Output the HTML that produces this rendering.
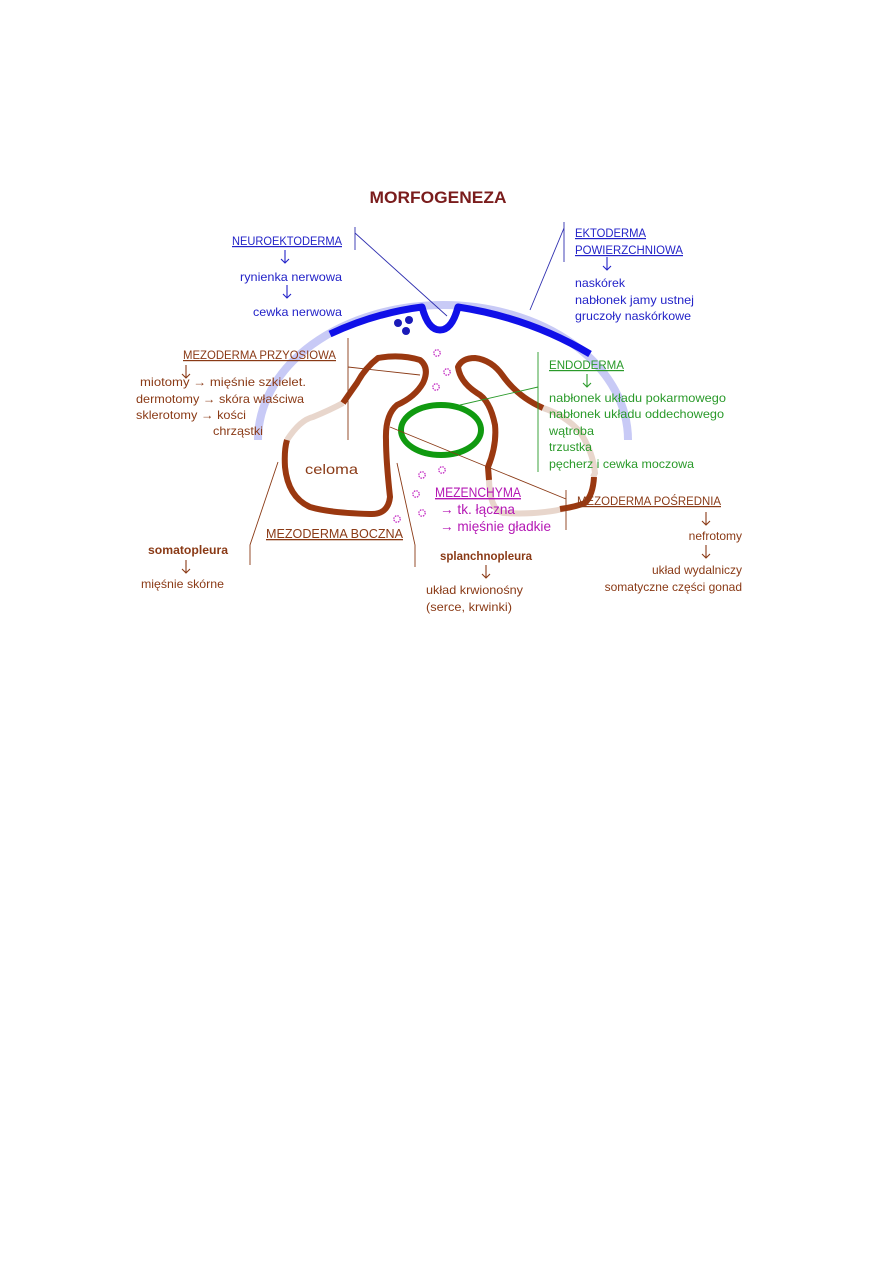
<!DOCTYPE html>
<html><head><meta charset="utf-8"><style>
html,body{margin:0;padding:0;background:#fff;}
svg{display:block;}
text{font-family:"Liberation Sans",sans-serif;font-size:12px;}
.b{fill:#2323c8}.br{fill:#8a3a16}.g{fill:#2a9a2a}.m{fill:#b418b4}
</style></head><body>
<svg width="893" height="1263" viewBox="0 0 893 1263" xmlns="http://www.w3.org/2000/svg">
<rect width="893" height="1263" fill="#fff"/>
<text x="438" y="203" text-anchor="middle" style="font-size:17px;font-weight:bold;fill:#7a1c1c" textLength="137" lengthAdjust="spacingAndGlyphs">MORFOGENEZA</text>

<!-- pale blue arc -->
<path d="M258 440 A185 135 0 0 1 628 440" fill="none" stroke="#c8caf6" stroke-width="8"/>
<!-- blue thick top -->
<path d="M330 334 Q375 313 422 307 Q428 330 440 330 Q452 330 458 307 Q530 318 590 354" fill="none" stroke="#1010e8" stroke-width="7" stroke-linejoin="round"/>
<circle cx="398" cy="323" r="4" fill="#1a1ab8"/><circle cx="409" cy="320" r="4" fill="#1a1ab8"/><circle cx="406" cy="331" r="4" fill="#1a1ab8"/>

<!-- left mesoderm -->
<path d="M287 440 Q300 420 313 417 Q330 410 343 403" fill="none" stroke="#e8d6cc" stroke-width="6"/>
<path d="M343 403 Q352 390 357 383 Q365 368 378 358 Q400 354 420 360 Q430 368 423 383 Q415 397 397 405 Q385 415 386 440 Q386 460 390 497 Q388 515 370 514 Q330 513 310 507 Q288 497 285 467 Q284 450 287 440" fill="none" stroke="#9a3810" stroke-width="6" stroke-linejoin="round"/>
<!-- right mesoderm -->
<path d="M543 408 Q565 415 580 432 Q593 452 595 473 L593 477" fill="none" stroke="#e8d6cc" stroke-width="6"/>
<path d="M567 508 Q540 515 503 513 Q490 510 489 480" fill="none" stroke="#e8d6cc" stroke-width="6"/>
<path d="M489 480 L488 467 Q497 445 495 425 Q490 400 477 393 Q460 382 458 367 Q462 358 475 358 Q492 360 503 376 Q518 397 543 408" fill="none" stroke="#9a3810" stroke-width="6" stroke-linejoin="round"/>
<path d="M594 477 Q593 495 585 503 Q575 507 560 509" fill="none" stroke="#9a3810" stroke-width="6"/>

<!-- green ellipse -->
<ellipse cx="441" cy="430" rx="40" ry="25" fill="none" stroke="#109a10" stroke-width="6"/>

<!-- stars -->
<g fill="none" stroke="#c020c0" stroke-width="1.2">
<circle cx="437" cy="353" r="3.2" stroke-dasharray="1.5 1"/><circle cx="447" cy="372" r="3.2" stroke-dasharray="1.5 1"/>
<circle cx="436" cy="387" r="3.2" stroke-dasharray="1.5 1"/><circle cx="422" cy="475" r="3.2" stroke-dasharray="1.5 1"/>
<circle cx="442" cy="470" r="3.2" stroke-dasharray="1.5 1"/><circle cx="416" cy="494" r="3.2" stroke-dasharray="1.5 1"/>
<circle cx="422" cy="513" r="3.2" stroke-dasharray="1.5 1"/><circle cx="397" cy="519" r="3.2" stroke-dasharray="1.5 1"/>
</g>

<!-- connector lines -->
<g stroke-width="0.9" fill="none">
<path d="M355 227 V250 M355 233 L447 316" stroke="#3030b0"/>
<path d="M564 222 V262 M564 228 L530 310" stroke="#3030b0"/>
<path d="M348 338 V440 M348 367 L420 375" stroke="#8a3a16"/>
<path d="M538 352 V472 M538 387 L460 405" stroke="#2a9a2a"/>
<path d="M566 490 V530 M390 427 L566 499" stroke="#8a3a16"/>
<path d="M278 462 L250 545 V565 M397 463 L415 545 V567" stroke="#8a3a16"/>
</g>

<!-- down arrows -->
<g fill="none" stroke-width="1.1">
<path d="M285 250 V263 M281 259 L285 263 L289 259" stroke="#2323c8"/>
<path d="M287 285 V298 M283 294 L287 298 L291 294" stroke="#2323c8"/>
<path d="M607 257 V270 M603 266 L607 270 L611 266" stroke="#2323c8"/>
<path d="M186 365 V378 M182 374 L186 378 L190 374" stroke="#8a3a16"/>
<path d="M587 374 V387 M583 383 L587 387 L591 383" stroke="#2a9a2a"/>
<path d="M186 560 V573 M182 569 L186 573 L190 569" stroke="#8a3a16"/>
<path d="M486 565 V578 M482 574 L486 578 L490 574" stroke="#8a3a16"/>
<path d="M706 512 V525 M702 521 L706 525 L710 521" stroke="#8a3a16"/>
<path d="M706 545 V558 M702 554 L706 558 L710 554" stroke="#8a3a16"/>
</g>

<!-- blue texts -->
<text x="232" y="245" class="b" text-decoration="underline" textLength="110" lengthAdjust="spacingAndGlyphs">NEUROEKTODERMA</text>
<text x="240" y="281" class="b" textLength="102" lengthAdjust="spacingAndGlyphs">rynienka nerwowa</text>
<text x="253" y="316" class="b" textLength="89" lengthAdjust="spacingAndGlyphs">cewka nerwowa</text>
<text x="575" y="237" class="b" text-decoration="underline" textLength="71" lengthAdjust="spacingAndGlyphs">EKTODERMA</text>
<text x="575" y="254" class="b" text-decoration="underline" textLength="108" lengthAdjust="spacingAndGlyphs">POWIERZCHNIOWA</text>
<text x="575" y="287" class="b" textLength="50" lengthAdjust="spacingAndGlyphs">naskórek</text>
<text x="575" y="304" class="b" textLength="119" lengthAdjust="spacingAndGlyphs">nabłonek jamy ustnej</text>
<text x="575" y="320" class="b" textLength="116" lengthAdjust="spacingAndGlyphs">gruczoły naskórkowe</text>

<!-- brown texts -->
<text x="183" y="359" class="br" text-decoration="underline" textLength="153" lengthAdjust="spacingAndGlyphs">MEZODERMA PRZYOSIOWA</text>
<text x="140" y="386" class="br" textLength="166" lengthAdjust="spacingAndGlyphs">miotomy → mięśnie szkielet.</text>
<text x="136" y="403" class="br" textLength="168" lengthAdjust="spacingAndGlyphs">dermotomy → skóra właściwa</text>
<text x="136" y="419" class="br" textLength="110" lengthAdjust="spacingAndGlyphs">sklerotomy → kości</text>
<text x="213" y="435" class="br" textLength="50" lengthAdjust="spacingAndGlyphs">chrząstki</text>
<text x="305" y="474" class="br" style="font-size:14px" textLength="53" lengthAdjust="spacingAndGlyphs">celoma</text>
<text x="266" y="538" class="br" style="font-size:13px" text-decoration="underline" textLength="137" lengthAdjust="spacingAndGlyphs">MEZODERMA BOCZNA</text>
<text x="148" y="554" class="br" style="font-weight:bold" textLength="80" lengthAdjust="spacingAndGlyphs">somatopleura</text>
<text x="141" y="588" class="br" textLength="83" lengthAdjust="spacingAndGlyphs">mięśnie skórne</text>
<text x="440" y="560" class="br" style="font-weight:bold" textLength="92" lengthAdjust="spacingAndGlyphs">splanchnopleura</text>
<text x="426" y="594" class="br" textLength="97" lengthAdjust="spacingAndGlyphs">układ krwionośny</text>
<text x="426" y="611" class="br" textLength="86" lengthAdjust="spacingAndGlyphs">(serce, krwinki)</text>
<text x="577" y="505" class="br" text-decoration="underline" textLength="144" lengthAdjust="spacingAndGlyphs">MEZODERMA POŚREDNIA</text>
<text x="742" y="540" class="br" text-anchor="end">nefrotomy</text>
<text x="742" y="574" class="br" text-anchor="end">układ wydalniczy</text>
<text x="742" y="591" class="br" text-anchor="end">somatyczne części gonad</text>

<!-- green texts -->
<text x="549" y="369" class="g" text-decoration="underline" textLength="75" lengthAdjust="spacingAndGlyphs">ENDODERMA</text>
<text x="549" y="402" class="g" textLength="177" lengthAdjust="spacingAndGlyphs">nabłonek układu pokarmowego</text>
<text x="549" y="418" class="g" textLength="175" lengthAdjust="spacingAndGlyphs">nabłonek układu oddechowego</text>
<text x="549" y="435" class="g" textLength="45" lengthAdjust="spacingAndGlyphs">wątroba</text>
<text x="549" y="451" class="g" textLength="43" lengthAdjust="spacingAndGlyphs">trzustka</text>
<text x="549" y="468" class="g" textLength="145" lengthAdjust="spacingAndGlyphs">pęcherz i cewka moczowa</text>

<!-- magenta texts -->
<text x="435" y="497" class="m" style="font-size:14px" text-decoration="underline" textLength="86" lengthAdjust="spacingAndGlyphs">MEZENCHYMA</text>
<text x="440" y="514" class="m" style="font-size:14px" textLength="75" lengthAdjust="spacingAndGlyphs">→ tk. łączna</text>
<text x="440" y="531" class="m" style="font-size:14px" textLength="111" lengthAdjust="spacingAndGlyphs">→ mięśnie gładkie</text>
</svg>
</body></html>
